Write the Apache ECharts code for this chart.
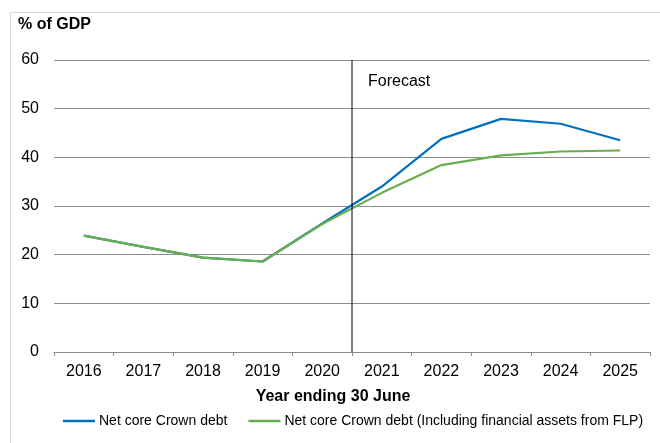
<!DOCTYPE html>
<html>
<head>
<meta charset="utf-8">
<script src="https://cdn.jsdelivr.net/npm/echarts@6/dist/echarts.min.js"></script>
<style>
  html, body { margin: 0; padding: 0; background: #fff; }
  #chart { width: 660px; height: 443px; }
</style>
</head>
<body>
<div id="chart"></div>
<script>
// Fiscal years (year ending 30 June)
const years = ['2016', '2017', '2018', '2019', '2020', '2021', '2022', '2023', '2024', '2025'];
// Net core Crown debt, % of GDP
const netCoreDebt = [23.9, 21.6, 19.4, 18.6, 26.4, 34.0, 43.8, 47.9, 46.9, 43.5];
// Net core Crown debt including financial assets from FLP, % of GDP
const netCoreDebtFLP = [23.9, 21.6, 19.4, 18.6, 26.3, 32.7, 38.4, 40.4, 41.2, 41.4];
// Boundary (in category widths from the left edge) where the forecast period starts
const forecastBoundary = 5;
const yTicks = { min: 0, max: 60, interval: 10 };
const seriesNames = ['Net core Crown debt', 'Net core Crown debt (Including financial assets from FLP)'];

const font = 'Liberation Sans, Arial, sans-serif';
const chart = echarts.init(document.getElementById('chart'), null, { renderer: 'canvas' });

chart.setOption({
  animation: false,
  backgroundColor: '#ffffff',
  textStyle: { fontFamily: font },
  grid: { left: 54, right: 10, top: 60, bottom: 91, containLabel: false },
  legend: {
    data: seriesNames,
    left: 63,
    top: 414,
    padding: 0,
    icon: 'rect',
    itemWidth: 32,
    itemHeight: 2.5,
    itemGap: 21,
    textStyle: { fontFamily: font, fontSize: 14, color: '#000', padding: [0, 0, 0, -1] },
    selectedMode: false
  },
  xAxis: [
    {
      type: 'category',
      data: years,
      boundaryGap: true,
      axisLine: { lineStyle: { color: '#8c8c8c', width: 1 } },
      axisTick: { show: true, length: 4, lineStyle: { color: '#8c8c8c' } },
      axisLabel: { color: '#000', fontSize: 16, fontFamily: font, margin: 12 },
      splitLine: { show: false }
    },
    {
      type: 'value',
      min: 0,
      max: years.length,
      show: false
    }
  ],
  yAxis: {
    type: 'value',
    min: yTicks.min,
    max: yTicks.max,
    interval: yTicks.interval,
    axisLine: { show: false },
    axisTick: { show: false },
    axisLabel: { color: '#000', fontSize: 16, fontFamily: font, margin: 15 },
    splitLine: { lineStyle: { color: '#8c8c8c', width: 1 } }
  },
  series: [
    {
      name: seriesNames[0],
      type: 'line',
      data: netCoreDebt,
      symbol: 'none',
      lineStyle: { color: '#0070C0', width: 2.2 },
      itemStyle: { color: '#0070C0' },
      z: 3
    },
    {
      name: seriesNames[1],
      type: 'line',
      data: netCoreDebtFLP,
      symbol: 'none',
      lineStyle: { color: '#6AAD4F', width: 2.2 },
      itemStyle: { color: '#6AAD4F' },
      z: 4
    },
    {
      // vertical divider marking the start of the forecast period
      name: 'forecast-divider',
      type: 'line',
      xAxisIndex: 1,
      data: [[forecastBoundary, yTicks.min], [forecastBoundary, yTicks.max]],
      symbol: 'none',
      lineStyle: { color: '#000', width: 1 },
      silent: true,
      z: 5
    }
  ],
  graphic: [
    {
      type: 'rect',
      shape: { x: 10.5, y: 12.5, width: 700, height: 500 },
      style: { fill: 'none', stroke: '#d9d9d9', lineWidth: 1 },
      silent: true
    },
    {
      type: 'text',
      left: 18,
      top: 17,
      style: { text: '% of GDP', font: 'bold 16px ' + font, fill: '#000' }
    },
    {
      type: 'text',
      left: 368,
      top: 74,
      style: { text: 'Forecast', font: '16px ' + font, fill: '#000' }
    },
    {
      type: 'text',
      x: 333,
      y: 396.5,
      style: { text: 'Year ending 30 June', font: 'bold 16px ' + font, fill: '#000', align: 'center', verticalAlign: 'middle' }
    }
  ]
});
</script>
</body>
</html>
